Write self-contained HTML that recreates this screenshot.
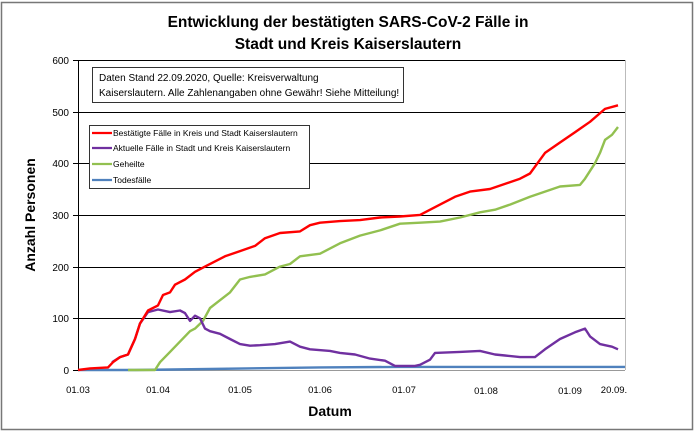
<!DOCTYPE html>
<html><head><meta charset="utf-8"><style>
body{margin:0;background:#fff}
svg{display:block;font-family:"Liberation Sans",Arial,sans-serif}
</style></head><body>
<svg id="s" width="696" height="434" xmlns="http://www.w3.org/2000/svg">
<rect x="1.5" y="2.5" width="691" height="427" fill="#fff" stroke="#777" stroke-width="1.5"/>
<text x="348" y="27" text-anchor="middle" font-size="15.5" font-weight="bold">Entwicklung der bestätigten SARS-CoV-2 Fälle in</text>
<text x="348" y="49" text-anchor="middle" font-size="15.5" font-weight="bold">Stadt und Kreis Kaiserslautern</text>
<g stroke="#000" stroke-width="1">
<line x1="78" y1="60.5" x2="625" y2="60.5"/>
<line x1="78" y1="112.5" x2="625" y2="112.5"/>
<line x1="78" y1="163.5" x2="625" y2="163.5"/>
<line x1="78" y1="215.5" x2="625" y2="215.5"/>
<line x1="78" y1="267.5" x2="625" y2="267.5"/>
<line x1="78" y1="318.5" x2="625" y2="318.5"/>
<line x1="78.5" y1="60" x2="78.5" y2="370"/>
<line x1="73" y1="60.5" x2="78" y2="60.5"/><line x1="73" y1="112.5" x2="78" y2="112.5"/><line x1="73" y1="163.5" x2="78" y2="163.5"/><line x1="73" y1="215.5" x2="78" y2="215.5"/><line x1="73" y1="267.5" x2="78" y2="267.5"/><line x1="73" y1="318.5" x2="78" y2="318.5"/><line x1="73" y1="370.5" x2="78" y2="370.5"/>
</g>
<line x1="78" y1="370.5" x2="625" y2="370.5" stroke="#999"/>
<line x1="625.5" y1="60" x2="625.5" y2="370" stroke="#bbb"/>
<g font-size="10" text-anchor="end">
<text x="69" y="64">600</text><text x="69" y="116">500</text><text x="69" y="167">400</text><text x="69" y="219">300</text><text x="69" y="271">200</text><text x="69" y="322">100</text><text x="69" y="374">0</text>
</g>
<g font-size="9.5" text-anchor="middle">
<text x="78" y="393">01.03</text><text x="158" y="393">01.04</text><text x="240" y="393">01.05</text><text x="320" y="393">01.06</text><text x="404" y="393">01.07</text><text x="486" y="394">01.08</text><text x="570" y="394">01.09</text><text x="614" y="393">20.09.</text>
</g>
<text x="330" y="416" text-anchor="middle" font-size="14" font-weight="bold">Datum</text>
<text transform="translate(35,215) rotate(-90)" text-anchor="middle" font-size="14" font-weight="bold">Anzahl Personen</text>
<rect x="92.5" y="67.5" width="311" height="35" fill="#fff" stroke="#333"/>
<text x="99" y="81" font-size="10">Daten Stand 22.09.2020, Quelle: Kreisverwaltung</text>
<text x="99" y="96" font-size="10">Kaiserslautern. Alle Zahlenangaben ohne Gewähr! Siehe Mitteilung!</text>
<rect x="89.5" y="125.5" width="220" height="63" fill="#fff" stroke="#333"/>
<g stroke-width="2.2"><line x1="92" y1="133" x2="112" y2="133" stroke="#ff0000"/><line x1="92" y1="148" x2="112" y2="148" stroke="#7030a0"/><line x1="92" y1="164" x2="112" y2="164" stroke="#92c050"/><line x1="92" y1="180" x2="112" y2="180" stroke="#4f81bd"/></g>
<g font-size="8.5"><text x="113" y="136">Bestätigte Fälle in Kreis und Stadt Kaiserslautern</text><text x="113" y="151">Aktuelle Fälle in Stadt und Kreis Kaiserslautern</text><text x="113" y="167">Geheilte</text><text x="113" y="183">Todesfälle</text></g>
<g id="series" fill="none" stroke-width="2.4" stroke-linejoin="round"></g>
</svg>
<script>
function pts(a){var r=[];for(var i=0;i<a.length;i+=2)r.push(a[i]+','+(370-a[i+1]*0.517).toFixed(1));return r.join(' ');}
var S=[
['#4f81bd',[78,0,135,0,210,2,320,5,400,6,625,6]],
['#92c050',[128,0,155,0,160,15,170,35,180,55,190,75,195,80,203,95,210,120,220,135,230,150,240,175,250,180,265,185,280,200,290,205,300,220,320,225,340,245,360,260,380,270,400,283,420,285,440,287,460,295,480,305,495,310,510,320,530,335,545,345,560,355,580,358,585,370,595,400,600,420,605,445,612,455,618,470]],
['#7030a0',[112,15,120,25,128,30,135,60,140,90,148,112,158,117,170,112,180,115,185,110,190,95,195,105,200,100,205,80,210,75,220,70,230,60,240,50,250,47,260,48,275,50,290,55,300,45,310,40,330,37,340,33,355,30,370,22,385,18,395,8,415,8,420,10,430,20,435,33,460,35,480,37,495,30,505,28,520,25,535,25,545,40,560,60,575,73,585,80,590,65,600,50,605,48,612,45,618,40]],
['#ff0000',[78,0,90,3,108,5,113,15,120,25,128,30,135,60,140,90,148,115,158,125,163,145,170,150,175,165,185,175,195,190,205,200,215,210,225,220,240,230,255,240,265,255,280,265,300,268,310,280,320,285,340,288,360,290,380,295,400,297,420,300,440,320,455,335,470,345,490,350,505,360,520,370,530,380,545,420,560,440,575,460,590,480,605,505,618,512]]];
var g=document.getElementById('series');
S.forEach(function(s){var p=document.createElementNS('http://www.w3.org/2000/svg','polyline');p.setAttribute('points',pts(s[1]));p.setAttribute('stroke',s[0]);g.appendChild(p);});
</script>
</body></html>
